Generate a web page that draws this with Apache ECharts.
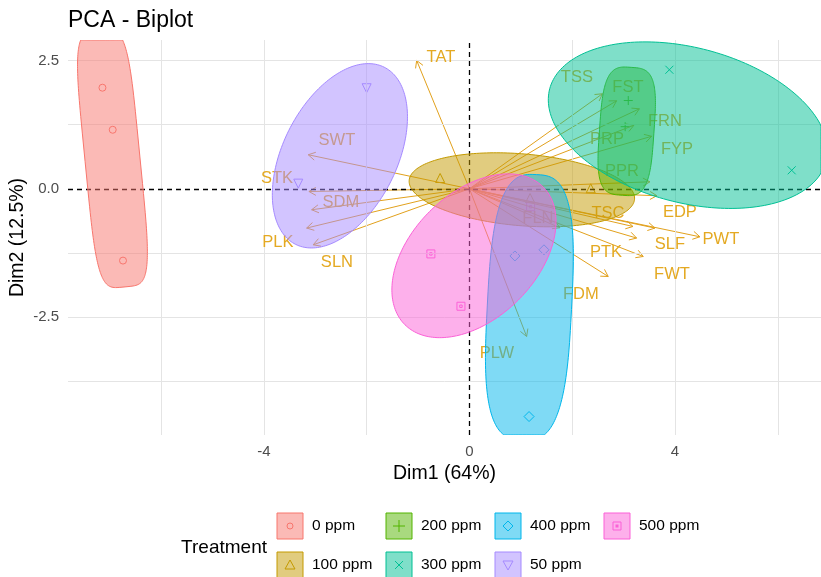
<!DOCTYPE html>
<html>
<head>
<meta charset="utf-8">
<script src="https://cdn.jsdelivr.net/npm/echarts@6/dist/echarts.min.js"></script>
<style>
  html, body { margin: 0; padding: 0; background: #ffffff; }
  #chart { width: 821px; height: 577px; }
</style>
</head>
<body>
<div id="chart"></div>
<script>
// ---- Treatment groups ----
const groups = ['0 ppm', '100 ppm', '200 ppm', '300 ppm', '400 ppm', '50 ppm', '500 ppm'];
const groupColors = ['#F8766D', '#C49A00', '#53B400', '#00C094', '#00B6EB', '#A58AFF', '#FB61D7'];
const groupShapes = ['circle', 'triangle', 'plus', 'cross', 'diamond', 'triangleDown', 'squareDot'];

// ---- Individuals (Dim1, Dim2) per treatment ----
const ind0ppm   = [[-7.14, 1.97], [-6.94, 1.15], [-6.74, -1.40]];
const ind100ppm = [[-0.57, 0.21], [2.36, 0.01], [1.18, -0.18]];
const ind200ppm = [[3.09, 1.72], [3.03, 1.21]];
const ind300ppm = [[3.89, 2.32], [6.27, 0.36]];
const ind400ppm = [[0.885, -1.31], [1.45, -1.19], [1.16, -4.44]];
const ind50ppm  = [[-2.00, 1.96], [-3.33, 0.10]];
const ind500ppm = [[-0.75, -1.27], [-0.165, -2.29], [1.19, -0.35]];
const groupPoints = [ind0ppm, ind100ppm, ind200ppm, ind300ppm, ind400ppm, ind50ppm, ind500ppm];

// ---- Group concentration ellipses (data units) ----
const ellipseCenterX = [-6.945, 1.02, 3.06, 4.25, 1.167, -2.52, 0.088];
const ellipseCenterY = [0.585, -0.02, 1.12, 1.24, -2.31, 0.643, -1.306];
const ellipseSemiMajor = [2.51, 2.20, 1.25, 2.78, 2.59, 1.93, 1.90];
const ellipseSemiMinor = [0.535, 0.70, 0.53, 1.51, 0.82, 1.11, 1.22];
const ellipseAngle = [95.6, -4.8, 86, -14.8, 87, 63.5, 45];   // degrees, major axis
const ellipseExponent = [4.5, 2, 3.5, 2, 3, 2, 2];             // superellipse exponent

// ---- Variables (arrow tips and label anchors) ----
const varNames = ['TAT', 'SWT', 'STK', 'SDM', 'PLK', 'SLN', 'PLW', 'FDM', 'PTK', 'FWT', 'SLF', 'PWT',
                  'EDP', 'TSC', 'FLN', 'PPR', 'TSS', 'FST', 'FRN', 'PRP', 'FYP'];
const varX = [-1.027, -3.136, -3.123, -3.070, -3.167, -3.039, 1.113, 2.700, 3.253, 3.381, 3.609, 4.484,
              3.648, 3.181, 1.761, 3.512, 2.588, 2.864, 3.307, 3.200, 3.545];
const varY = [2.501, 0.663, -0.053, -0.409, -0.766, -1.092, -2.879, -1.710, -0.961, -1.320, -0.766, -0.936,
              -0.136, -0.735, -0.760, 0.136, 1.852, 1.715, 1.559, 1.238, 1.023];
const varLabelX = [-0.554, -2.578, -3.745, -2.500, -3.726, -2.578, 0.535, 2.169, 2.656, 3.940, 3.901, 4.893,
                   4.095, 2.695, 1.333, 2.967, 2.091, 3.084, 3.804, 2.675, 4.037];
const varLabelY = [2.554, 0.936, 0.195, -0.273, -1.053, -1.442, -3.216, -2.066, -1.248, -1.676, -1.092, -0.994,
                   -0.468, -0.487, -0.585, 0.331, 2.164, 1.969, 1.306, 0.955, 0.760];

// ---- Axes ----
const xRange = [-7.81, 6.84];
const yRange = [-4.8, 2.9];
const xTickValues = [-4, 0, 4];
const yTickValues = [-2.5, 0, 2.5];
const xGridValues = [-6, -4, -2, 2, 4, 6];
const yGridValues = [2.5, 1.25, -1.25, -2.5, -3.75];

const FONT = '"Liberation Sans", Arial, Helvetica, sans-serif';
const VAR_COLOR = '#E2A11C';

function rgba(hex, a) {
  const n = parseInt(hex.slice(1), 16);
  return 'rgba(' + ((n >> 16) & 255) + ',' + ((n >> 8) & 255) + ',' + (n & 255) + ',' + a + ')';
}

// outline of a (super)ellipse in data coordinates
function ellipseOutline(i) {
  const pts = [];
  const th = ellipseAngle[i] * Math.PI / 180;
  const p = 2 / ellipseExponent[i];
  const N = 200;
  for (let k = 0; k < N; k++) {
    const t = 2 * Math.PI * k / N;
    const c = Math.cos(t), s = Math.sin(t);
    const u = ellipseSemiMajor[i] * Math.sign(c) * Math.pow(Math.abs(c), p);
    const v = ellipseSemiMinor[i] * Math.sign(s) * Math.pow(Math.abs(s), p);
    pts.push([ellipseCenterX[i] + u * Math.cos(th) - v * Math.sin(th),
              ellipseCenterY[i] + u * Math.sin(th) + v * Math.cos(th)]);
  }
  return pts;
}

const scatterSymbol = {
  circle: ['circle', 7],
  triangle: ['triangle', 9],
  plus: ['path://M5,0L5,10M0,5L10,5', 9],
  cross: ['path://M0,0L10,10M10,0L0,10', 8],
  diamond: ['diamond', 10],
  triangleDown: ['path://M0,0L10,0L5,8.66Z', 9],
  squareDot: ['path://M0,0L10,0L10,10L0,10Z M3.5,3.5L6.5,3.5L6.5,6.5L3.5,6.5Z', 8]
};

// legend glyph drawn with graphic primitives
function legendGlyph(kind, cx, cy, color) {
  const st = { stroke: color, fill: null, lineWidth: 1 };
  switch (kind) {
    case 'circle': return { type: 'circle', shape: { cx: cx, cy: cy, r: 3 }, style: st };
    case 'triangle': return { type: 'polygon', shape: { points: [[cx, cy - 5], [cx + 5, cy + 4], [cx - 5, cy + 4]] }, style: st };
    case 'plus': return { type: 'group', children: [
      { type: 'line', shape: { x1: cx - 6, y1: cy, x2: cx + 6, y2: cy }, style: st },
      { type: 'line', shape: { x1: cx, y1: cy - 6, x2: cx, y2: cy + 6 }, style: st }] };
    case 'cross': return { type: 'group', children: [
      { type: 'line', shape: { x1: cx - 4, y1: cy - 4, x2: cx + 4, y2: cy + 4 }, style: st },
      { type: 'line', shape: { x1: cx - 4, y1: cy + 4, x2: cx + 4, y2: cy - 4 }, style: st }] };
    case 'diamond': return { type: 'polygon', shape: { points: [[cx, cy - 5], [cx + 5, cy], [cx, cy + 5], [cx - 5, cy]] }, style: st };
    case 'triangleDown': return { type: 'polygon', shape: { points: [[cx - 5, cy - 4], [cx + 5, cy - 4], [cx, cy + 5]] }, style: st };
    default: return { type: 'group', children: [
      { type: 'rect', shape: { x: cx - 4, y: cy - 4, width: 8, height: 8 }, style: st },
      { type: 'rect', shape: { x: cx - 1.5, y: cy - 1.5, width: 3, height: 3 }, style: { fill: color } }] };
  }
}

// legend: title + 2-row key grid, filled column by column
function buildLegend() {
  const els = [{
    type: 'text', x: 267, y: 548,
    style: { text: 'Treatment', font: '19px ' + FONT, fill: '#000', align: 'right', verticalAlign: 'middle' }
  }];
  const colLeft = [277, 386, 495, 604];
  const rowMid = [526, 565];
  const box = 26;
  groups.forEach((g, i) => {
    const x0 = colLeft[Math.floor(i / 2)];
    const cy = rowMid[i % 2];
    const cx = x0 + box / 2;
    els.push({ type: 'rect', shape: { x: x0, y: cy - box / 2, width: box, height: box },
               style: { fill: rgba(groupColors[i], 0.5), stroke: groupColors[i], lineWidth: 1 } });
    els.push(legendGlyph(groupShapes[i], cx, cy, groupColors[i]));
    els.push({ type: 'text', x: x0 + box + 9, y: cy,
               style: { text: g, font: '15.5px ' + FONT, fill: '#000', align: 'left', verticalAlign: 'middle' } });
  });
  return els;
}

const series = [];

// background grid lines
series.push({
  type: 'line', data: [], z: 1, silent: true,
  markLine: {
    silent: true, symbol: ['none', 'none'], label: { show: false }, animation: false,
    lineStyle: { color: '#E4E4E4', width: 1, type: 'solid' },
    data: xGridValues.map(v => ({ xAxis: v })).concat(yGridValues.map(v => ({ yAxis: v })))
  }
});

// dashed reference lines through the origin
series.push({
  type: 'line', data: [], z: 2, silent: true,
  markLine: {
    silent: true, symbol: ['none', 'none'], label: { show: false }, animation: false,
    lineStyle: { color: '#000', width: 1.3, type: [5, 4] },
    data: [{ xAxis: 0 }, { yAxis: 0 }]
  }
});

// individuals
groups.forEach((g, i) => {
  const sym = scatterSymbol[groupShapes[i]];
  series.push({
    type: 'scatter', name: g, data: groupPoints[i], z: 3, silent: true,
    symbol: sym[0], symbolSize: sym[1],
    itemStyle: { color: 'rgba(0,0,0,0)', borderColor: groupColors[i], borderWidth: 1, opacity: 1 }
  });
});

// variable arrows
series.push({
  type: 'custom', z: 4, silent: true,
  data: varNames.map((n, i) => [varX[i], varY[i]]),
  renderItem(params, api) {
    const o = api.coord([0, 0]);
    const t = api.coord([api.value(0), api.value(1)]);
    const ang = Math.atan2(t[1] - o[1], t[0] - o[0]);
    const L = 8, w = Math.PI / 6;
    const h1 = [t[0] - L * Math.cos(ang - w), t[1] - L * Math.sin(ang - w)];
    const h2 = [t[0] - L * Math.cos(ang + w), t[1] - L * Math.sin(ang + w)];
    return {
      type: 'group', children: [
        { type: 'line', shape: { x1: o[0], y1: o[1], x2: t[0], y2: t[1] }, style: { stroke: VAR_COLOR, lineWidth: 1 } },
        { type: 'polyline', shape: { points: [h1, t, h2] }, style: { stroke: VAR_COLOR, lineWidth: 1, fill: null } }
      ]
    };
  }
});

// variable labels
series.push({
  type: 'custom', z: 5, silent: true,
  data: varNames.map((n, i) => [varLabelX[i], varLabelY[i], i]),
  renderItem(params, api) {
    const p = api.coord([api.value(0), api.value(1)]);
    return {
      type: 'text', x: p[0], y: p[1],
      style: { text: varNames[api.value(2)], font: '16.5px ' + FONT, fill: '#E4A922', align: 'center', verticalAlign: 'middle' }
    };
  }
});

// group ellipses, drawn on top with transparency
series.push({
  type: 'custom', z: 6, silent: true, clip: true,
  data: groups.map((g, i) => [i]),
  encode: { x: -1, y: -1 },
  renderItem(params, api) {
    const i = api.value(0);
    const cs = params.coordSys;
    let pts = ellipseOutline(i).map(p => api.coord(p));
    pts = echarts.graphic.clipPointsByRect(pts, { x: cs.x, y: cs.y, width: cs.width, height: cs.height });
    return {
      type: 'polygon', shape: { points: pts },
      style: { fill: rgba(groupColors[i], 0.5), stroke: groupColors[i], lineWidth: 1 }
    };
  }
});

const chart = echarts.init(document.getElementById('chart'), null, { renderer: 'canvas' });
chart.setOption({
  animation: false,
  backgroundColor: '#ffffff',
  title: {
    text: 'PCA - Biplot', left: 68, top: 9, padding: 0,
    textStyle: { fontSize: 23, fontWeight: 'normal', color: '#000', fontFamily: FONT }
  },
  grid: { left: 68, right: 0, top: 40, bottom: 142, containLabel: false, outerBoundsMode: 'none' },
  xAxis: {
    type: 'value', min: xRange[0], max: xRange[1],
    splitLine: { show: false },
    axisLine: { show: false },
    axisTick: { show: true, customValues: xTickValues, length: 5, lineStyle: { color: '#333' } },
    axisLabel: { customValues: xTickValues, color: '#4D4D4D', fontSize: 15, fontFamily: FONT, margin: 9,
                 formatter: v => String(v) },
    name: 'Dim1 (64%)', nameLocation: 'middle', nameGap: 28,
    nameTextStyle: { fontSize: 19.5, color: '#000', fontFamily: FONT }
  },
  yAxis: {
    type: 'value', min: yRange[0], max: yRange[1],
    splitLine: { show: false },
    axisLine: { show: false },
    axisTick: { show: true, customValues: yTickValues, length: 5, lineStyle: { color: '#333' } },
    axisLabel: { customValues: yTickValues, color: '#4D4D4D', fontSize: 15, fontFamily: FONT, margin: 9,
                 formatter: v => v.toFixed(1) },
    name: 'Dim2 (12.5%)', nameLocation: 'middle', nameGap: 40, nameRotate: 90, nameMoveOverlap: false,
    nameTextStyle: { fontSize: 19.5, color: '#000', fontFamily: FONT }
  },
  graphic: buildLegend(),
  series: series
});
</script>
</body>
</html>
